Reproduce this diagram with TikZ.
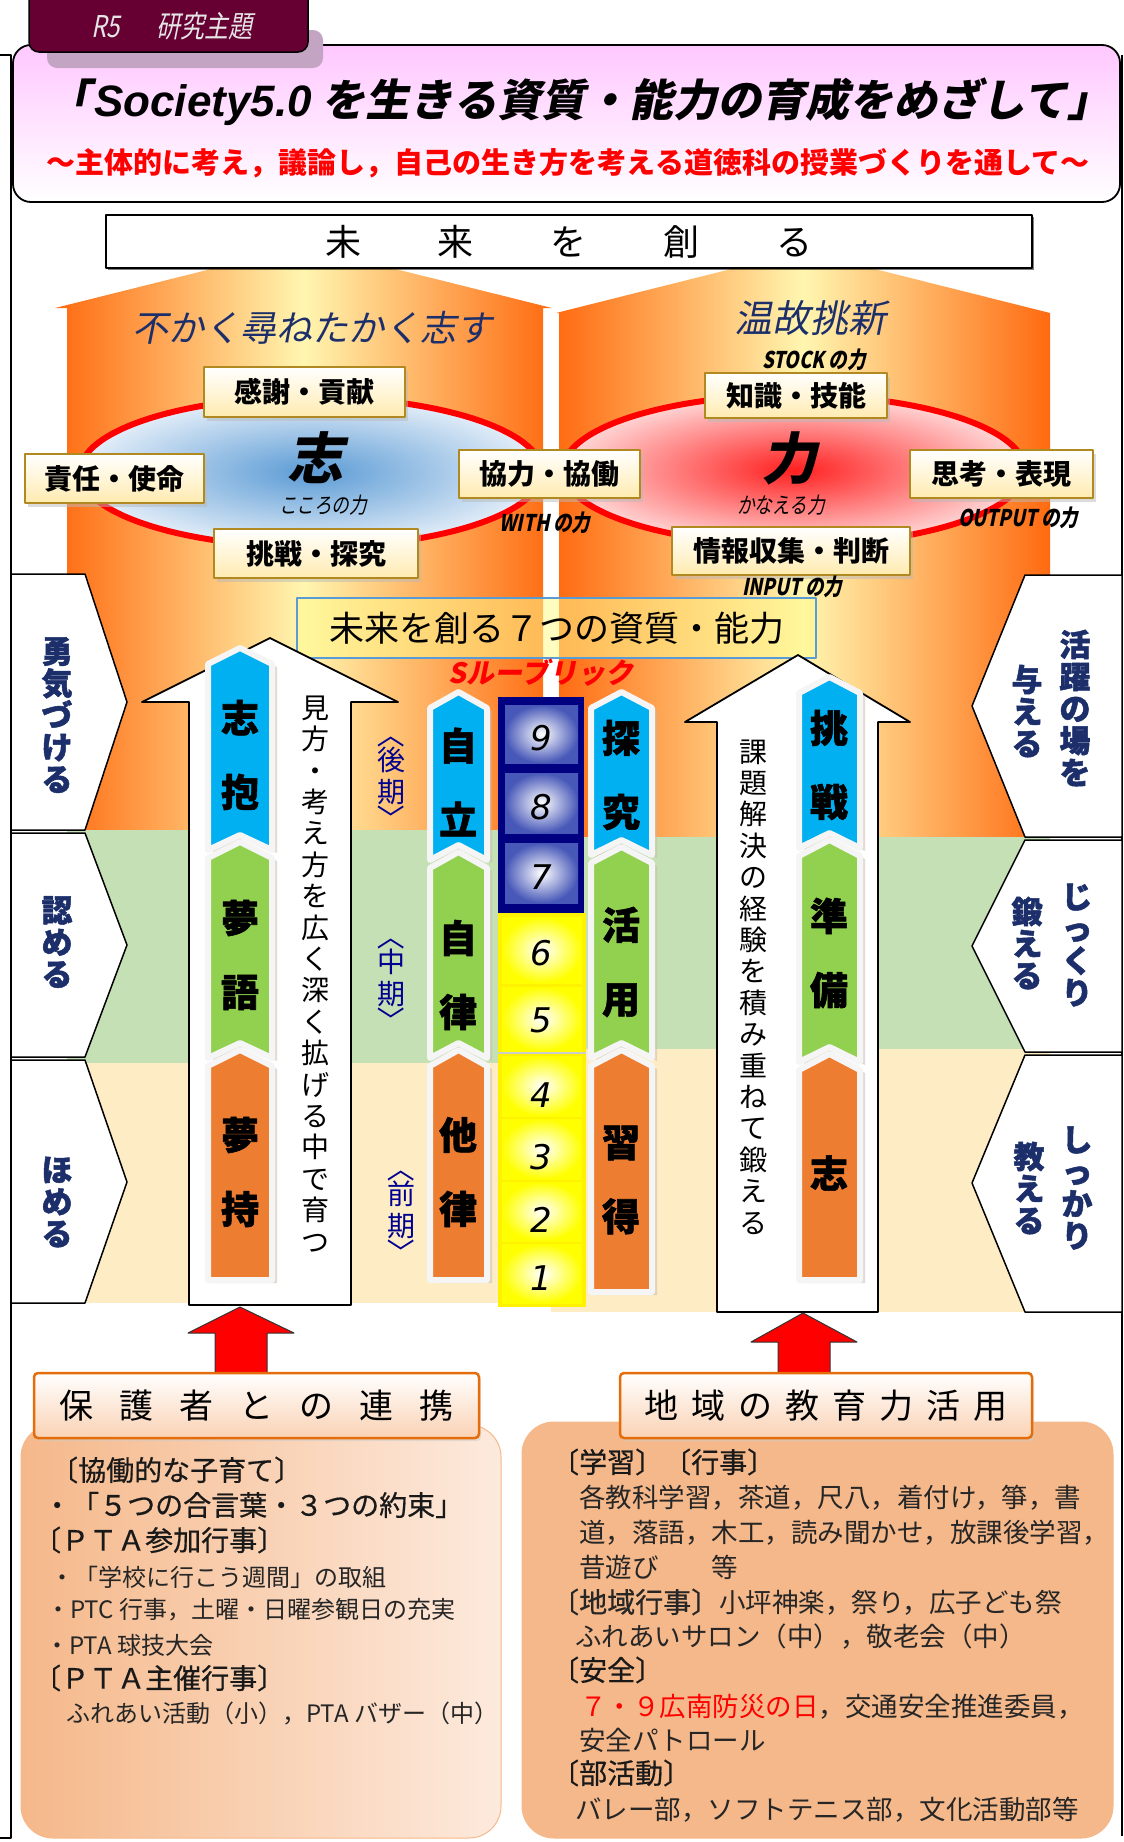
\documentclass[tikz,border=0pt]{standalone}
\usepackage{fontspec}
\usepackage{graphicx}
\setmainfont{Noto Sans CJK JP}
\newfontfamily\jpit{Noto Sans CJK JP}[FakeSlant=0.2]
\newfontfamily\jpcond{Noto Sans CJK JP}[FakeSlant=0.2,FakeStretch=0.8]
\newfontfamily\jpheavy{Noto Sans CJK JP}[FakeBold=1.5]
\newfontfamily\jpmed{Noto Sans CJK JP}[FakeBold=0.6]
\newfontfamily\latinf{Liberation Sans}
\newfontfamily\digitf{DejaVu Sans}
\usetikzlibrary{positioning,shadows,calc}

\definecolor{tabred}{HTML}{660033}
\definecolor{tabshade}{HTML}{C3A5C3}
\definecolor{titlepink}{HTML}{FFC8FF}
\definecolor{houseor}{HTML}{FF6A10}
\definecolor{houseyel}{HTML}{FFF6B0}
\definecolor{bandgreen}{HTML}{C5E0B4}
\definecolor{bandcream}{HTML}{FEEDC4}
\definecolor{navytext}{HTML}{1C2F6B}
\definecolor{ellblue}{HTML}{5B9BD5}
\definecolor{ellblueout}{HTML}{E2EDF8}
\definecolor{ellred}{HTML}{FF2020}
\definecolor{ellredout}{HTML}{FFD5D5}
\definecolor{boxgold}{HTML}{B08A20}
\definecolor{boxcream}{HTML}{FFEBB0}
\definecolor{chevblue}{HTML}{00B0F0}
\definecolor{chevgreen}{HTML}{92D050}
\definecolor{chevorange}{HTML}{ED7D31}
\definecolor{cellnavy}{HTML}{000080}
\definecolor{cellblue}{HTML}{4858B8}
\definecolor{kikiblue}{HTML}{000090}
\definecolor{rubricblue}{HTML}{5B9BD5}
\definecolor{peach}{HTML}{F5B88A}
\definecolor{peachlight}{HTML}{FDEADD}
\definecolor{peachmid}{HTML}{FAD2B4}
\definecolor{frameorange}{HTML}{E46C0A}

% one character per line, for upright vertical writing
\def\vst#1{#1\vstnext}
\def\vstnext#1{\ifx#1\relax\let\vstgo\relax\else\def\vstgo{\\#1\vstnext}\fi\vstgo}
% characters spread out by a gap
\def\spread#1#2{\def\spreadgap{\hspace{#1}}\spreadA#2\relax}
\def\spreadA#1{#1\spreadB}
\def\spreadB#1{\ifx#1\relax\let\spreadgo\relax\else\def\spreadgo{\spreadgap#1\spreadB}\fi\spreadgo}
\newcommand\vopen{\rotatebox[origin=c]{-90}{〈}}
\newcommand\vclose{\rotatebox[origin=c]{-90}{〉}}
% chevron: colour, left x, right x, top, bottom, notch
\newcommand\chev[6]{\draw[chevline,fill=#1] (#2,#4+16) -- ({(#2+#3)/2},#4) -- (#3,#4+16) -- (#3,#5) -- ({(#2+#3)/2},#5-#6) -- (#2,#5) -- cycle;}

\begin{document}
\begin{tikzpicture}[x=1pt,y=-1pt,line join=round]
	\tikzstyle{every node}=[inner sep=0pt]
	\tikzstyle{tag}=[draw=boxgold,line width=2.5pt,top color=white,bottom color=boxcream,drop shadow={shadow xshift=3pt,shadow yshift=-4pt,fill=gray!55},font=\fontsize{28}{28}\selectfont\bfseries]
	\tikzstyle{smallit}=[font=\fontsize{23}{23}\selectfont\jpcond\bfseries]
	\tikzstyle{sidelab}=[draw=black,line width=1.5pt,fill=white]
	\tikzstyle{sidetext}=[text=navytext,align=center,font=\fontsize{31}{32}\selectfont\jpheavy\bfseries]
	\tikzstyle{warrow}=[draw=black,line width=1.8pt,fill=white]
	\tikzstyle{chevline}=[draw=gray!8,line width=6pt,drop shadow={shadow xshift=5pt,shadow yshift=-3pt,fill=brown!45!gray!55}]
	\tikzstyle{chevtext}=[align=center,font=\fontsize{38}{74}\selectfont\jpheavy\bfseries]
	\tikzstyle{vtext}=[align=center,font=\fontsize{28}{31.4}\selectfont]
	\tikzstyle{kiki}=[text=kikiblue,align=center,font=\fontsize{28}{32}\selectfont]
	\tikzstyle{num}=[font=\fontsize{34}{34}\selectfont\digitf\itshape]
	\tikzstyle{redarrow}=[draw=black!80,line width=1pt,fill=red]
	\tikzstyle{headbox}=[draw=frameorange,line width=2.5pt,rounded corners=4pt,top color=white,bottom color=peachmid,drop shadow={shadow xshift=2pt,shadow yshift=-3pt,fill=gray!40},font=\fontsize{34}{34}\selectfont]
	\tikzstyle{big}=[anchor=west,text=black!90,font=\fontsize{28}{28}\selectfont\jpmed]
	\tikzstyle{small}=[anchor=west,text=black!85,font=\fontsize{24}{24}\selectfont]
	\tikzstyle{body}=[anchor=west,text=black!85,font=\fontsize{26.5}{26.5}\selectfont]

	\useasboundingbox (0,0) rectangle (1124,1842);

	% frame
	\draw[line width=1.5pt] (0,55) -- (11,55) -- (11,1838) -- (0,1838);
	\draw[line width=1.5pt] (1122,55) -- (1122,1836);

	% title
	\draw[line width=1.8pt,rounded corners=18pt,top color=titlepink,bottom color=white] (13,45) rectangle (1120,202);
	\fill[tabshade,rounded corners=10pt] (47,30) rectangle (323,68);
	\draw[line width=1.5pt,fill=tabred,rounded corners=10pt] (29,-15) rectangle (308,52);
	\node[text=gray!20,font=\fontsize{30}{30}\selectfont\jpcond] (tab) at (172,26) {R5\hspace{36pt}研究主題};
	\node[font=\fontsize{44}{44}\selectfont\jpit\bfseries] (title) at (579,102) {「\hspace{4pt}{\latinf\bfseries\itshape Society5.0} を生きる資質・能力の育成をめざして」};
	\node[text=red,font=\fontsize{29}{29}\selectfont\bfseries] (subtitle) at (568,163) {～主体的に考え，議論し，自己の生き方を考える道徳科の授業づくりを通して～};

	% two houses
	\shade[left color=houseor,right color=houseor,middle color=houseyel] (67,830) -- (67,308) -- (55,308) -- (303,246) -- (552,308) -- (543,308) -- (543,830) -- cycle;
	\shade[left color=houseor,right color=houseor,middle color=houseyel] (559,837) -- (559,313) -- (556,313) -- (803,251) -- (1050,313) -- (1050,837) -- cycle;
	\fill[bandgreen] (67,830) rectangle (551,1063);
	\fill[bandgreen] (551,837) rectangle (1050,1049);
	\fill[bandcream] (67,1063) rectangle (551,1303);
	\fill[bandcream] (551,1049) rectangle (1050,1312);

	\node[draw=black,line width=1.5pt,fill=white,minimum width=926pt,minimum height=53pt,drop shadow={shadow xshift=2pt,shadow yshift=-2pt,fill=black},font=\fontsize{36}{36}\selectfont] (mirai) at (569,241.5) {\spread{77pt}{未来を創る}};

	\node[text=navytext,font=\fontsize{36}{36}\selectfont\jpit] (fukaku) at (312,328) {不かく尋ねたかく志す};
	\node[text=navytext,font=\fontsize{38}{38}\selectfont\jpit] (onko) at (810,318) {温故挑新};
	\node[smallit] (stock) at (814,360) {STOCK の力};

	% ellipses
	\shadedraw[draw=red,line width=6pt,inner color=ellblue,outer color=ellblueout] (311,472) ellipse [x radius=231pt,y radius=75pt];
	\shadedraw[draw=red,line width=6pt,inner color=ellred,outer color=ellredout] (794,470) ellipse [x radius=231pt,y radius=75pt];
	\node[font=\fontsize{56}{56}\selectfont\jpit\bfseries] (kokoro) at (315,458) {志};
	\node[font=\fontsize{22}{22}\selectfont\jpcond] (kokorop) at (323,505) {こころの力};
	\node[font=\fontsize{56}{56}\selectfont\jpit\bfseries] (chikara) at (789,458) {力};
	\node[font=\fontsize{22}{22}\selectfont\jpcond] (kanaeru) at (781,505) {かなえる力};

	\node[tag,minimum width=201pt,minimum height=50pt] (kansha) at (304.5,392) {感謝・貢献};
	\node[tag,minimum width=179pt,minimum height=49pt] (sekinin) at (114.5,478.5) {責任・使命};
	\node[tag,minimum width=181pt,minimum height=48pt] (kyoryoku) at (549.5,474) {協力・協働};
	\node[tag,minimum width=204pt,minimum height=49pt] (chosen) at (316,553.5) {挑戦・探究};
	\node[tag,minimum width=182pt,minimum height=45pt] (chishiki) at (796,395.5) {知識・技能};
	\node[tag,minimum width=183pt,minimum height=48pt] (shiko) at (1001.5,474) {思考・表現};
	\node[tag,minimum width=238pt,minimum height=48pt] (joho) at (791,551) {情報収集・判断};
	\node[smallit] (with) at (545,523) {WITH の力};
	\node[smallit] (output) at (1018,518) {OUTPUT の力};
	\node[smallit] (input) at (792,587) {INPUT の力};

	\node[draw=rubricblue,line width=1.5pt,fill=yellow!45,fill opacity=0.55,text opacity=1,minimum width=519pt,minimum height=60pt,font=\fontsize{35}{35}\selectfont] (nanatsu) at (556.5,628) {未来を創る７つの資質・能力};
	\node[text=red,font=\fontsize{28}{28}\selectfont\jpit\bfseries] (rubric) at (541,673) {Sルーブリック};

	% side labels
	\draw[sidelab] (11,574) -- (85,574) -- (127,702) -- (85,830) -- (11,830) -- cycle;
	\draw[sidelab] (11,833) -- (85,833) -- (127,945) -- (85,1057) -- (11,1057) -- cycle;
	\draw[sidelab] (11,1060) -- (85,1060) -- (127,1182) -- (85,1303) -- (11,1303) -- cycle;
	\draw[sidelab] (1122,575) -- (1025,575) -- (972,706) -- (1025,837) -- (1122,837) -- cycle;
	\draw[sidelab] (1122,840) -- (1025,840) -- (972,946) -- (1025,1052) -- (1122,1052) -- cycle;
	\draw[sidelab] (1122,1055) -- (1025,1055) -- (972,1183) -- (1025,1312) -- (1122,1312) -- cycle;
	\node[sidetext] (yuki) at (57,715) {\vst 勇気づける\relax};
	\node[sidetext] (mitomeru) at (57,942) {\vst 認める\relax};
	\node[sidetext] (homeru) at (57,1202) {\vst ほめる\relax};
	\node[sidetext] (katsuyaku) at (1075,708) {\vst 活躍の場を\relax};
	\node[sidetext] (ataeru) at (1027,711) {\vst 与える\relax};
	\node[sidetext] (jikkuri) at (1077,945) {\vst じっくり\relax};
	\node[sidetext] (kitaeru) at (1027,943) {\vst 鍛える\relax};
	\node[sidetext] (shikkari) at (1077,1188) {\vst しっかり\relax};
	\node[sidetext] (oshieru) at (1029,1188) {\vst 教える\relax};

	% white arrows
	\draw[warrow] (270,638) -- (398,702) -- (351,702) -- (351,1305) -- (189,1305) -- (189,702) -- (142,702) -- cycle;
	\draw[warrow] (798,655) -- (910,722) -- (878,722) -- (878,1312) -- (717,1312) -- (717,722) -- (685,722) -- cycle;
	\node[vtext] (mikata) at (315,974) {\vst 見方・考え方を広く深く拡げる中で育つ\relax};
	\node[vtext] (kadai) at (753,987) {\vst 課題解決の経験を積み重ねて鍛える\relax};

	% chevron columns
	\chev{chevblue}{208}{272}{648}{850}{15}
	\chev{chevgreen}{208}{272}{842}{1058}{15}
	\chev{chevorange}{208}{272}{1050}{1280}{0}
	\chev{chevblue}{430}{487}{692}{860}{15}
	\chev{chevgreen}{430}{487}{852}{1058}{15}
	\chev{chevorange}{430}{487}{1050}{1280}{0}
	\chev{chevblue}{591}{652}{692}{855}{15}
	\chev{chevgreen}{591}{652}{847}{1058}{15}
	\chev{chevorange}{591}{652}{1050}{1292}{0}
	\chev{chevblue}{799}{860}{677}{848}{15}
	\chev{chevgreen}{799}{860}{840}{1062}{15}
	\chev{chevorange}{799}{860}{1054}{1280}{0}
	\node[chevtext] (a1) at (240,755) {志\\抱};
	\node[chevtext] (a2) at (240,955) {夢\\語};
	\node[chevtext] (a3) at (240,1172) {夢\\持};
	\node[chevtext] (b1) at (458,782) {自\\立};
	\node[chevtext] (b2) at (458,975) {自\\律};
	\node[chevtext] (b3) at (458,1172) {他\\律};
	\node[chevtext] (c1) at (621,775) {探\\究};
	\node[chevtext] (c2) at (621,962) {活\\用};
	\node[chevtext] (c3) at (621,1180) {習\\得};
	\node[chevtext] (d1) at (829,765) {挑\\戦};
	\node[chevtext] (d2) at (829,953) {準\\備};
	\node[chevtext] (d3) at (829,1173) {志};

	% S rubric steps
	\fill[cellnavy] (498,697) rectangle (584,913);
	\foreach \t/\b in {705/763,773/833,843/903}
		\shade[inner color=white,outer color=cellblue] (505,\t) rectangle (578,\b);
	\fill[yellow] (498,913) rectangle (586,1307);
	\foreach \t/\b in {917/983,987/1051,1056/1116,1119/1179,1182/1241,1244/1303}
		\shade[inner color=white,outer color=yellow] (502,\t) rectangle (582,\b);
	\draw[gray!40,line width=1.5pt] (498,1053) -- (586,1053);
	\foreach \n/\y in {9/738,8/807,7/877,6/953,5/1020,4/1095,3/1157,2/1220,1/1278}
		\node[num] (n\n) at (541,\y) {\n};

	\node[kiki] (koki) at (391,776) {\vopen\\[-6pt]後\\期\\[-6pt]\vclose};
	\node[kiki] (chuki) at (391,978) {\vopen\\[-6pt]中\\期\\[-6pt]\vclose};
	\node[kiki] (zenki) at (401,1210) {\vopen\\[-6pt]前\\期\\[-6pt]\vclose};

	% support from outside
	\draw[redarrow] (240,1307) -- (294,1333) -- (267,1333) -- (267,1378) -- (215,1378) -- (215,1333) -- (188,1333) -- cycle;
	\draw[redarrow] (803,1313) -- (857,1342) -- (830,1342) -- (830,1378) -- (778,1378) -- (778,1342) -- (751,1342) -- cycle;
	\shadedraw[draw=peach,line width=1pt,rounded corners=32pt,left color=peach,right color=peachlight] (21,1425) rectangle (501,1838);
	\shadedraw[draw=peach,line width=1pt,rounded corners=32pt,left color=peach,middle color=peachlight,right color=peach] (522,1422) rectangle (1113,1838);
	\node[headbox,minimum width=445pt,minimum height=65pt] (hogosha) at (256.5,1405.5) {\spread{26pt}{保護者との連携}};
	\node[headbox,minimum width=412pt,minimum height=65pt] (chiiki) at (826,1405.5) {\spread{13pt}{地域の教育力活用}};

	\node[big] (l1) at (50,1470) {〔協働的な子育て〕};
	\node[big] (l2) at (43,1505) {・「５つの合言葉・３つの約束」};
	\node[big] (l3) at (33,1540) {〔ＰＴＡ参加行事〕};
	\node[small] (l4) at (50,1577) {・「学校に行こう週間」の取組};
	\node[small] (l5) at (46,1610) {・PTC 行事，土曜・日曜参観日の充実};
	\node[small] (l6) at (45,1645) {・PTA 球技大会};
	\node[big] (l7) at (33,1678) {〔ＰＴＡ主催行事〕};
	\node[small] (l8) at (66,1713) {ふれあい活動（小），PTA バザー（中）};

	\node[big] (r1) at (551,1462) {〔学習〕〔行事〕};
	\node[body] (r2) at (579,1498) {各教科学習，茶道，尺八，着付け，箏，書};
	\node[body] (r3) at (579,1533) {道，落語，木工，読み聞かせ，放課後学習，};
	\node[body] (r4) at (579,1567) {昔遊び　　等};
	\node[body] (r5) at (551,1602) {{\fontsize{28}{28}\selectfont\jpmed 〔地域行事〕}小坪神楽，祭り，広子ども祭};
	\node[body] (r6) at (575,1637) {ふれあいサロン（中），敬老会（中）};
	\node[big] (r7) at (551,1670) {〔安全〕};
	\node[body] (r8) at (580,1707) {{\color{red}７・９広南防災の日}，交通安全推進委員，};
	\node[body] (r9) at (579,1740) {安全パトロール};
	\node[big] (r10) at (551,1773) {〔部活動〕};
	\node[body] (r11) at (575,1810) {バレー部，ソフトテニス部，文化活動部等};
\end{tikzpicture}
\end{document}
